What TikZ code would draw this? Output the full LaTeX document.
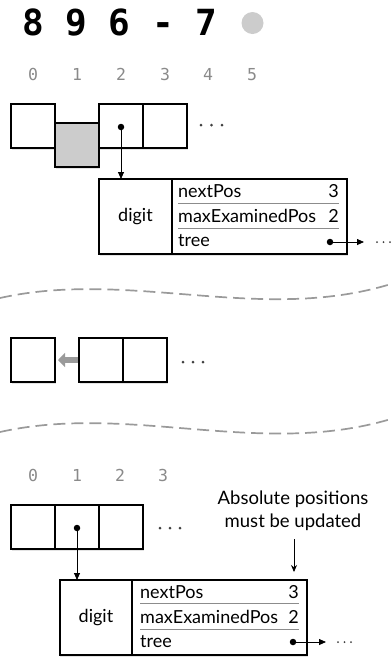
\documentclass[tikz,border=0pt]{standalone}
\usepackage{fontspec}
\setmainfont{Lato}
\newfontfamily\monofont{DejaVu Sans Mono}
\usetikzlibrary{arrows.meta,shadows}
\definecolor{idxgray}{HTML}{8A8A8A}
\definecolor{cellgray}{HTML}{CCCCCC}
\definecolor{dashgray}{HTML}{9A9A9A}
\begin{document}
\begin{tikzpicture}[x=1pt,y=-1pt,
  shade/.style={drop shadow={opacity=0.22, shadow xshift=0.6pt, shadow yshift=-2.4pt}},
  cell/.style={draw=black, line width=2pt, fill=white, minimum width=44pt, minimum height=44pt, inner sep=0pt, shade},
  graycell/.style={cell, fill=cellgray},
  lcell/.style={draw=black, line width=2pt, fill=white, minimum width=73pt, minimum height=75pt, inner sep=0pt, shade, font=\fontsize{18}{20}\selectfont},
  rcell/.style={draw=black, line width=2pt, fill=white, minimum width=175pt, minimum height=75pt, inner sep=0pt, shade},
  fld/.style={anchor=west, inner sep=0pt, font=\fontsize{18}{20}\selectfont},
  val/.style={anchor=east, inner sep=0pt, font=\fontsize{18}{20}\selectfont},
  sep/.style={draw=black!45, line width=0.6pt},
  idx/.style={anchor=base, inner sep=0pt, text=idxgray, font=\monofont\fontsize{16.5}{18}\selectfont},
  ptr/.style={line width=0.8pt, -{Triangle[length=7pt,width=6pt]}},
  dotc/.style={fill=black, circle, inner sep=0pt, minimum size=6.5pt},
  ell/.style={fill=black!75},
  wave/.style={draw=dashgray, line width=1.7pt, dash pattern=on 12pt off 6pt},
  note/.style={align=center, inner sep=0pt, font=\fontsize{18.5}{23}\selectfont}
]
\useasboundingbox (0,0) rectangle (391,657);

% ---- title ----
\node[anchor=base west, inner sep=0pt, font=\monofont\bfseries\fontsize{36}{40}\selectfont] (title) at (22,35) {8 9 6 - 7};
\fill[cellgray] (252.5,23) circle (11);

% ---- indices top ----
\foreach \i/\x in {0/33,1/77,2/121,3/165,4/208,5/252}
  \node[idx] (ti\i) at (\x,80) {\i};

% ---- top row ----
\node[cell] (a0) at (33,126) {};
\node[cell] (a2) at (121,126) {};
\node[cell] (a3) at (165,126) {};
\node[graycell] (a1) at (77,145) {};
\foreach \x in {201,211.5,222} \fill[ell] (\x,125) circle (1.5);

% ---- top struct ----
\node[lcell] (sL) at (135.5,216.5) {digit};
\node[rcell] (sR) at (259.5,216.5) {};
\node[fld] (n1) at (178,191) {nextPos};
\node[val] (v1) at (339,191) {3};
\node[fld] (n2) at (178,216) {maxExaminedPos};
\node[val] (v2) at (339,216) {2};
\node[fld] (n3) at (178,241) {tree};
\draw[sep] (178,203.5) -- (339,203.5);
\draw[sep] (178,228.5) -- (339,228.5);

\node[dotc] (p1) at (121,127) {};
\draw[ptr] (p1.center) -- (121,179);
\node[dotc] (t1) at (330,242) {};
\coordinate (t1e) at (364,242);
\draw[ptr] (t1.center) -- (t1e);
\foreach \x in {377,383.5,390} \fill[ell] (\x,242) circle (1);

% ---- wave 1 ----
\draw[wave] (0,298) .. controls (130,269) and (260,324) .. (391,284);

% ---- middle row ----
\node[cell] (m0) at (33,360) {};
\node[cell] (m1) at (101,360) {};
\node[cell] (m2) at (145,360) {};
\draw[draw=dashgray, line width=6pt, -{Triangle[length=7pt,width=14pt]}] (m1.west) -- ([xshift=2pt]m0.east);
\foreach \x in {183,193,203} \fill[ell] (\x,362) circle (1.5);

% ---- wave 2 ----
\draw[wave] (0,432) .. controls (130,403) and (260,458) .. (391,419);

% ---- indices bottom ----
\foreach \i/\x in {0/33,1/77,2/120,3/163}
  \node[idx] (bi\i) at (\x,481) {\i};

% ---- bottom row ----
\node[cell] (c0) at (33,526.5) {};
\node[cell] (c1) at (77,526.5) {};
\node[cell] (c2) at (121,526.5) {};
\foreach \x in {160,170,180} \fill[ell] (\x,528) circle (1.5);

% ---- bottom struct ----
\node[lcell] (bL) at (96,617.5) {digit};
\node[rcell] (bR) at (219.5,617.5) {};
\node[fld] (bn1) at (140,592) {nextPos};
\node[val] (bv1) at (299,592) {3};
\node[fld] (bn2) at (140,617) {maxExaminedPos};
\node[val] (bv2) at (299,617) {2};
\node[fld] (bn3) at (140,642) {tree};
\draw[sep] (140,603.5) -- (299,603.5);
\draw[sep] (140,629) -- (299,629);

\node[dotc] (p2) at (77,528) {};
\draw[ptr] (p2.center) -- (77,580);
\node[dotc] (t2) at (293,642) {};
\coordinate (t2e) at (326,642);
\draw[ptr] (t2.center) -- (t2e);
\foreach \x in {338,344.5,351} \fill[ell] (\x,642) circle (1);

% ---- note ----
\node[note] (nt) at (293,511) {Absolute positions\\must be updated};
\coordinate (ntarr) at (294,572);
\draw[line width=0.8pt, -{Stealth[length=7pt,width=6pt]}] (294,539) -- (ntarr);
\end{tikzpicture}
\end{document}
